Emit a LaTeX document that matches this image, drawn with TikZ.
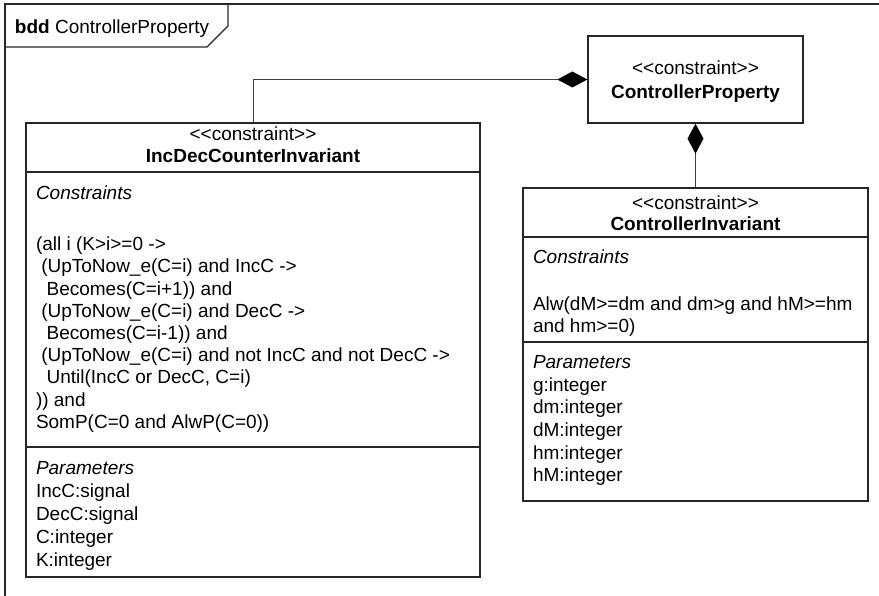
\documentclass[tikz,border=0pt]{standalone}
\usepackage{fontspec}
\setmainfont{Liberation Sans}
\usetikzlibrary{arrows.meta}

\newcommand{\umlfont}{\fontsize{19}{22.5}\selectfont}
\newcommand{\indA}{\hspace*{5.3pt}}
\newcommand{\indB}{\hspace*{10.6pt}}

\tikzset{
  umlbox/.style={draw=black!85, line width=1.3pt, fill=white, inner sep=0pt},
  sepline/.style={draw=black!85, line width=1.3pt},
  lefttxt/.style={anchor=base west, inner sep=0pt, outer sep=0pt, font=\umlfont},
  midtxt/.style={anchor=base, inner sep=0pt, outer sep=0pt, font=\umlfont},
  conn/.style={draw=black!75, line width=1pt},
  compo/.style={conn, {Diamond[length=30pt,width=16pt,black]}-},
  framel/.style={draw=black!85, line width=1.3pt}
}

\begin{document}
\begin{tikzpicture}[x=1pt, y=-1pt]
\useasboundingbox (0,0) rectangle (879,596);

% diagram frame and its name tab
\draw[framel] (5,596) -- (5,4) -- (879,4);
\draw[framel] (5,47) -- (207,47) -- (228,26) -- (228,4);
\node[lefttxt] (framename) at (15,33.3) {\textbf{bdd} ControllerProperty};

% blocks
\node[umlbox, minimum width=215pt, minimum height=87pt] (cp) at (695.5,79.5) {};
\node[umlbox, minimum width=454pt, minimum height=454pt] (idc) at (253,350) {};
\node[umlbox, minimum width=345pt, minimum height=313pt] (ci) at (695.5,344.5) {};

% compartment separators
\draw[sepline] (idc.west |- 0,172) -- (idc.east |- 0,172);
\draw[sepline] (idc.west |- 0,447) -- (idc.east |- 0,447);
\draw[sepline] (ci.west |- 0,237) -- (ci.east |- 0,237);
\draw[sepline] (ci.west |- 0,342) -- (ci.east |- 0,342);

% composition associations
\draw[compo] (cp.west) -| (idc.north);
\draw[compo] (cp.south) -- (ci.north);

% ControllerProperty
\node[midtxt] (cp-st) at (695.5,75) {<{}<constraint>{}>};
\node[midtxt] (cp-nm) at (695.5,98.3) {\textbf{ControllerProperty}};

% IncDecCounterInvariant
\node[midtxt] (idc-st) at (253,140.3) {<{}<constraint>{}>};
\node[midtxt] (idc-nm) at (253,162.6) {\textbf{IncDecCounterInvariant}};
\node[lefttxt] (idc-ch) at (36,200) {\textit{Constraints}};
\foreach \t [count=\i from 0] in {
  {(all i (K>i>=0 ->},
  {\indA(UpToNow\_e(C=i) and IncC ->},
  {\indB Becomes(C=i+1)) and},
  {\indA(UpToNow\_e(C=i) and DecC ->},
  {\indB Becomes(C=i-1)) and},
  {\indA(UpToNow\_e(C=i) and not IncC and not DecC ->},
  {\indB Until(IncC or DecC, C=i)},
  {)) and},
  {SomP(C=0 and AlwP(C=0))}}
  \node[lefttxt] (idc-c\i) at (36,250.7+22.2*\i) {\t};
\node[lefttxt] (idc-ph) at (36,474) {\textit{Parameters}};
\foreach \t [count=\i] in {IncC:signal, DecC:signal, C:integer, K:integer}
  \node[lefttxt] (idc-p\i) at (36,474+23*\i) {\t};

% ControllerInvariant
\node[midtxt] (ci-st) at (695.5,209.5) {<{}<constraint>{}>};
\node[midtxt] (ci-nm) at (695.5,230.3) {\textbf{ControllerInvariant}};
\node[lefttxt] (ci-ch) at (533,263.3) {\textit{Constraints}};
\node[lefttxt] (ci-c1) at (533,311) {Alw(dM>=dm and dm>g and hM>=hm};
\node[lefttxt] (ci-c2) at (533,333) {and hm>=0)};
\node[lefttxt] (ci-ph) at (533,368.3) {\textit{Parameters}};
\foreach \t [count=\i] in {g:integer, dm:integer, dM:integer, hm:integer, hM:integer}
  \node[lefttxt] (ci-p\i) at (533,368.3+22.7*\i) {\t};
\end{tikzpicture}
\end{document}
